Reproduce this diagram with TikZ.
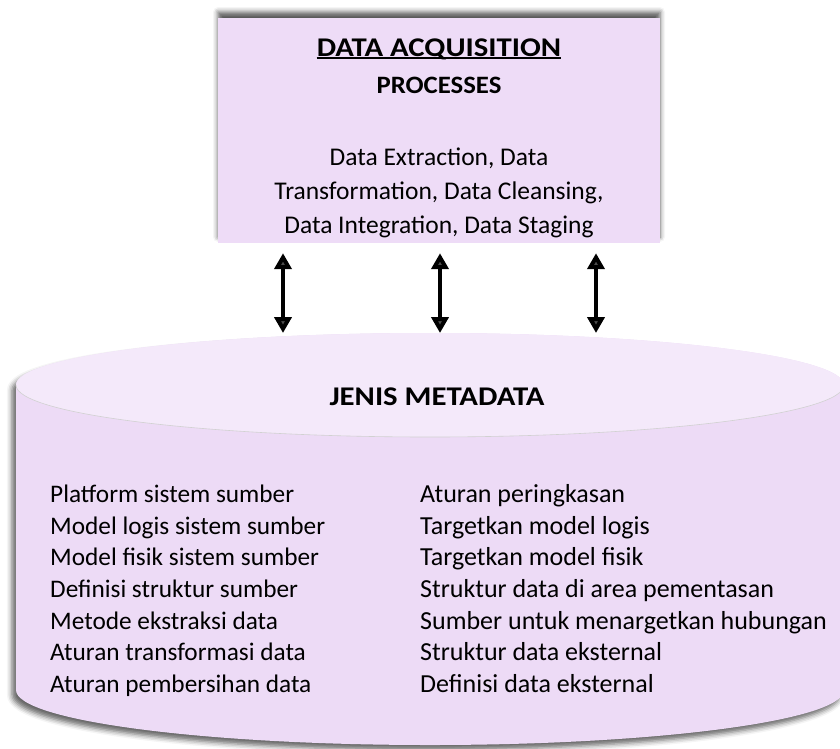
\documentclass[tikz,border=0pt]{standalone}
\usepackage{fontspec}
\setmainfont{Carlito}
\newfontfamily\ttlfont{Carlito}[FakeStretch=1.14]
\newfontfamily\procfont{Carlito}[FakeStretch=1.07]
\usetikzlibrary{arrows.meta,shadows.blur}
\definecolor{boxfill}{HTML}{EEDCF7}
\definecolor{cylbody}{HTML}{EDDBF6}
\definecolor{cyltop}{HTML}{F4E9FA}
\tikzset{
  procbox/.style={fill=boxfill, draw=none, inner sep=0pt,
    blur shadow={shadow xshift=0pt, shadow yshift=6pt, shadow blur radius=5pt, shadow opacity=65}},
  txt/.style={inner sep=0pt, text height=0.7em, text depth=0.2em, font=\fontsize{25.5}{28}\selectfont},
  ctxt/.style={txt, font=\fontsize{25.3}{28}\selectfont},
  rtxt/.style={txt, font=\fontsize{26}{28}\selectfont},
  ttl/.style={inner sep=0pt, text height=0.7em, text depth=0.2em, font=\fontsize{27}{30}\selectfont\ttlfont\bfseries},
  uline/.style={line width=1.6pt, black},
  dblarr/.style={line width=4pt, {Triangle[width=17pt,length=16pt]}-{Triangle[width=17pt,length=16pt]}}
}
\begin{document}
\begin{tikzpicture}[x=1pt,y=1pt]
\useasboundingbox (0,0) rectangle (840,-748);
% process box
\node[procbox, minimum width=442pt, minimum height=225pt] (proc) at (439,-130.5) {};
\node[ttl] (t1) at (439,-54) {DATA ACQUISITION};
\draw[uline] ([yshift=1pt]t1.south west) -- ([yshift=1pt]t1.south east);
\node[ttl, font=\fontsize{25}{28}\selectfont\procfont\bfseries] (t2) at (439,-91) {PROCESSES};
\node[txt] (l1) at (439,-163) {Data Extraction, Data};
\node[txt] (l2) at (439,-197) {Transformation, Data Cleansing,};
\node[txt] (l3) at (439,-231) {Data Integration, Data Staging};
% cylinder
\path[fill=cylbody, blur shadow={shadow xshift=-4pt, shadow yshift=-5pt, shadow blur radius=5pt, shadow opacity=60}]
  (16,-385) -- (16,-690) arc[start angle=180, end angle=360, x radius=414, y radius=55]
  -- (844,-385) arc[start angle=0, end angle=180, x radius=414, y radius=52] -- cycle;
\fill[cyltop] (430,-385) ellipse[x radius=414, y radius=52];
\draw[black!18, line width=0.6pt] (16,-385) arc[start angle=180, end angle=360, x radius=414, y radius=52];
\node[ttl] (meta) at (437,-403) {JENIS METADATA};
% left column
\foreach \t [count=\i from 0] in {Platform sistem sumber, Model logis sistem sumber, Model fisik sistem sumber, Definisi struktur sumber, Metode ekstraksi data, Aturan transformasi data, Aturan pembersihan data}
  \node[ctxt, anchor=west] (a\i) at (50,-500-31.67*\i) {\t};
% right column
\foreach \t [count=\i from 0] in {Aturan peringkasan, Targetkan model logis, Targetkan model fisik, Struktur data di area pementasan, Sumber untuk menargetkan hubungan, Struktur data eksternal, Definisi data eksternal}
  \node[rtxt, anchor=west] (b\i) at (420,-500-31.67*\i) {\t};
% arrows
\coordinate (e1) at (283,-333);
\coordinate (e2) at (440,-333);
\coordinate (e3) at (596,-333);
\draw[dblarr] ([xshift=-156pt,yshift=-10pt]proc.south) -- (e1);
\draw[dblarr] ([xshift=1pt,yshift=-10pt]proc.south) -- (e2);
\draw[dblarr] ([xshift=157pt,yshift=-10pt]proc.south) -- (e3);
\end{tikzpicture}
\end{document}
